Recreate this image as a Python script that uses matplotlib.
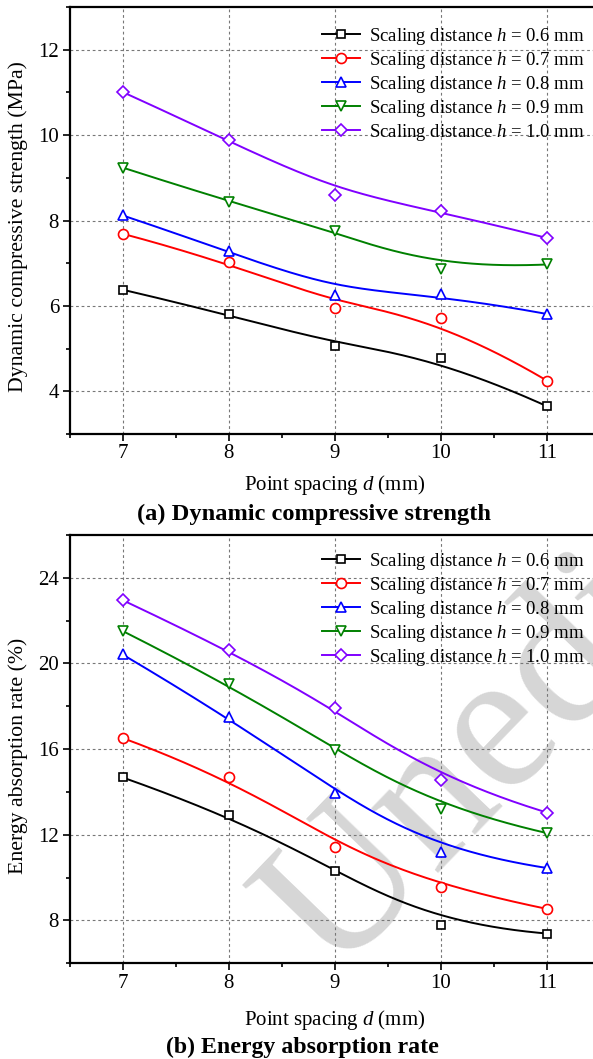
import numpy as np
import matplotlib
matplotlib.use("Agg")
import matplotlib.pyplot as plt
from matplotlib.ticker import MultipleLocator

plt.rcParams['font.family'] = ['Liberation Serif', 'DejaVu Serif']
plt.rcParams['mathtext.fontset'] = 'custom'
plt.rcParams['mathtext.rm'] = 'Liberation Serif'
plt.rcParams['mathtext.it'] = 'Liberation Serif:italic'

# point spacing d (mm)
spacing = [7, 8, 9, 10, 11]
heights = ["0.6", "0.7", "0.8", "0.9", "1.0"]

# (a) dynamic compressive strength (MPa), one list per scaling distance
strength_06 = [6.38, 5.80, 5.06, 4.77, 3.65]
strength_07 = [7.69, 7.03, 5.95, 5.71, 4.25]
strength_08 = [8.12, 7.29, 6.25, 6.27, 5.81]
strength_09 = [9.24, 8.44, 7.76, 6.86, 6.97]
strength_10 = [11.01, 9.88, 8.59, 8.22, 7.59]

# (b) energy absorption rate (%)
energy_06 = [14.68, 12.93, 10.33, 7.81, 7.39]
energy_07 = [16.52, 14.70, 11.44, 9.57, 8.54]
energy_08 = [20.42, 17.50, 13.95, 11.22, 10.45]
energy_09 = [21.52, 19.02, 15.98, 13.22, 12.08]
energy_10 = [22.96, 20.62, 17.93, 14.55, 13.04]

colors = ["#000000", "#ff0000", "#0000ff", "#008000", "#8000ff"]
markers = ["s", "o", "^", "v", "D"]
msizes = [5.8, 7.2, 7.6, 7.6, 6.6]


def bspline(xs, ys, k=3, n=300):
    # clamped cubic B-spline using the data as control points
    P = np.column_stack([xs, ys]).astype(float)
    m = len(P)
    knots = np.concatenate([np.zeros(k), np.linspace(0, 1, m - k + 1), np.ones(k)])
    t = np.linspace(0, 1, n)
    N = np.zeros((len(knots) - 1, n))
    for i in range(len(knots) - 1):
        N[i] = (knots[i] <= t) & (t < knots[i + 1])
    N[m - 1, -1] = 1.0
    for p in range(1, k + 1):
        newN = np.zeros((len(knots) - 1 - p, n))
        for i in range(len(knots) - 1 - p):
            a = knots[i + p] - knots[i]
            b = knots[i + p + 1] - knots[i + 1]
            left = (t - knots[i]) / a * N[i] if a > 0 else 0.0
            right = (knots[i + p + 1] - t) / b * N[i + 1] if b > 0 else 0.0
            newN[i] = left + right
        N = newN
    curve = N.T @ P
    return curve[:, 0], curve[:, 1]


fig = plt.figure(figsize=(5.93, 10.59), dpi=100)
W, H = 593.0, 1059.0

panels = [
    dict(rect=(69.5, 7, 600, 434),
         series=[strength_06, strength_07, strength_08, strength_09, strength_10],
         ylim=(3, 13), major=2, minor=1,
         ylabel="Dynamic compressive strength (MPa)",
         xlabel_top=473, legend_top=26),
    dict(rect=(69.5, 535, 600, 963.3),
         series=[energy_06, energy_07, energy_08, energy_09, energy_10],
         ylim=(6, 26), major=4, minor=2,
         ylabel="Energy absorption rate (%)",
         xlabel_top=1008, legend_top=551),
]

axes = []
for pn in panels:
    x0, y0, x1, y1 = pn["rect"]
    ax = fig.add_axes([x0 / W, 1 - y1 / H, (x1 - x0) / W, (y1 - y0) / H])
    axes.append(ax)
    for vals, c, mk, ms, hh in zip(pn["series"], colors, markers, msizes, heights):
        cx, cy = bspline(spacing, vals)
        ax.plot(cx, cy, color=c, lw=1.4, zorder=3)
        ax.plot(spacing, vals, ls="none", marker=mk, ms=ms, mfc="white",
                mec=c, mew=1.2, zorder=4)
        ax.plot([], [], color=c, lw=1.4, marker=mk, ms=ms, mfc="white", mec=c,
                mew=1.2, label=f"Scaling distance $h$ = {hh} mm")
    ax.set_xlim(6.5, 11.5)
    ax.set_ylim(*pn["ylim"])
    ax.xaxis.set_major_locator(MultipleLocator(1))
    ax.xaxis.set_minor_locator(MultipleLocator(0.5))
    ax.yaxis.set_major_locator(MultipleLocator(pn["major"]))
    ax.yaxis.set_minor_locator(MultipleLocator(pn["minor"]))
    ax.tick_params(which="major", direction="out", length=5, width=1.2,
                   labelsize=15, pad=2.5)
    ax.tick_params(which="minor", direction="out", length=3, width=1.2)
    ax.grid(True, which="major", color="#777777", lw=0.8, ls=(0, (2.5, 2.5)))
    for s in ax.spines.values():
        s.set_linewidth(1.6)
    ax.set_ylabel(pn["ylabel"], fontsize=15.7)
    ax.yaxis.set_label_coords(-0.078, 0.485)
    ax.set_xlabel("Point spacing $d$ (mm)", fontsize=15)
    ax.xaxis.set_label_coords(0.5, -(pn["xlabel_top"] - y1) / (y1 - y0))
    ax.legend(loc="upper right", frameon=False, fontsize=13.5,
              bbox_to_anchor=((584 - x0) / (x1 - x0), 1 - (pn["legend_top"] - y0) / (y1 - y0)),
              borderpad=0, borderaxespad=0, handlelength=2.0, handletextpad=0.48,
              labelspacing=0.16)

fig.text(313.5 / W, 1 - 520 / H, "(a) Dynamic compressive strength",
         fontsize=17.6, fontweight="bold", ha="center", va="baseline")
fig.text(302 / W, 1 - 1053 / H, "(b) Energy absorption rate",
         fontsize=17.2, fontweight="bold", ha="center", va="baseline")

# light grey watermark behind the lower panel
axes[1].text(333 / W, 1 - 977 / H, "Unedited", transform=fig.transFigure,
             fontsize=145, color="#d6d6d6", rotation=46, rotation_mode="anchor",
             ha="left", va="baseline", zorder=1, clip_on=False)

fig.savefig("out.png", dpi=100)
